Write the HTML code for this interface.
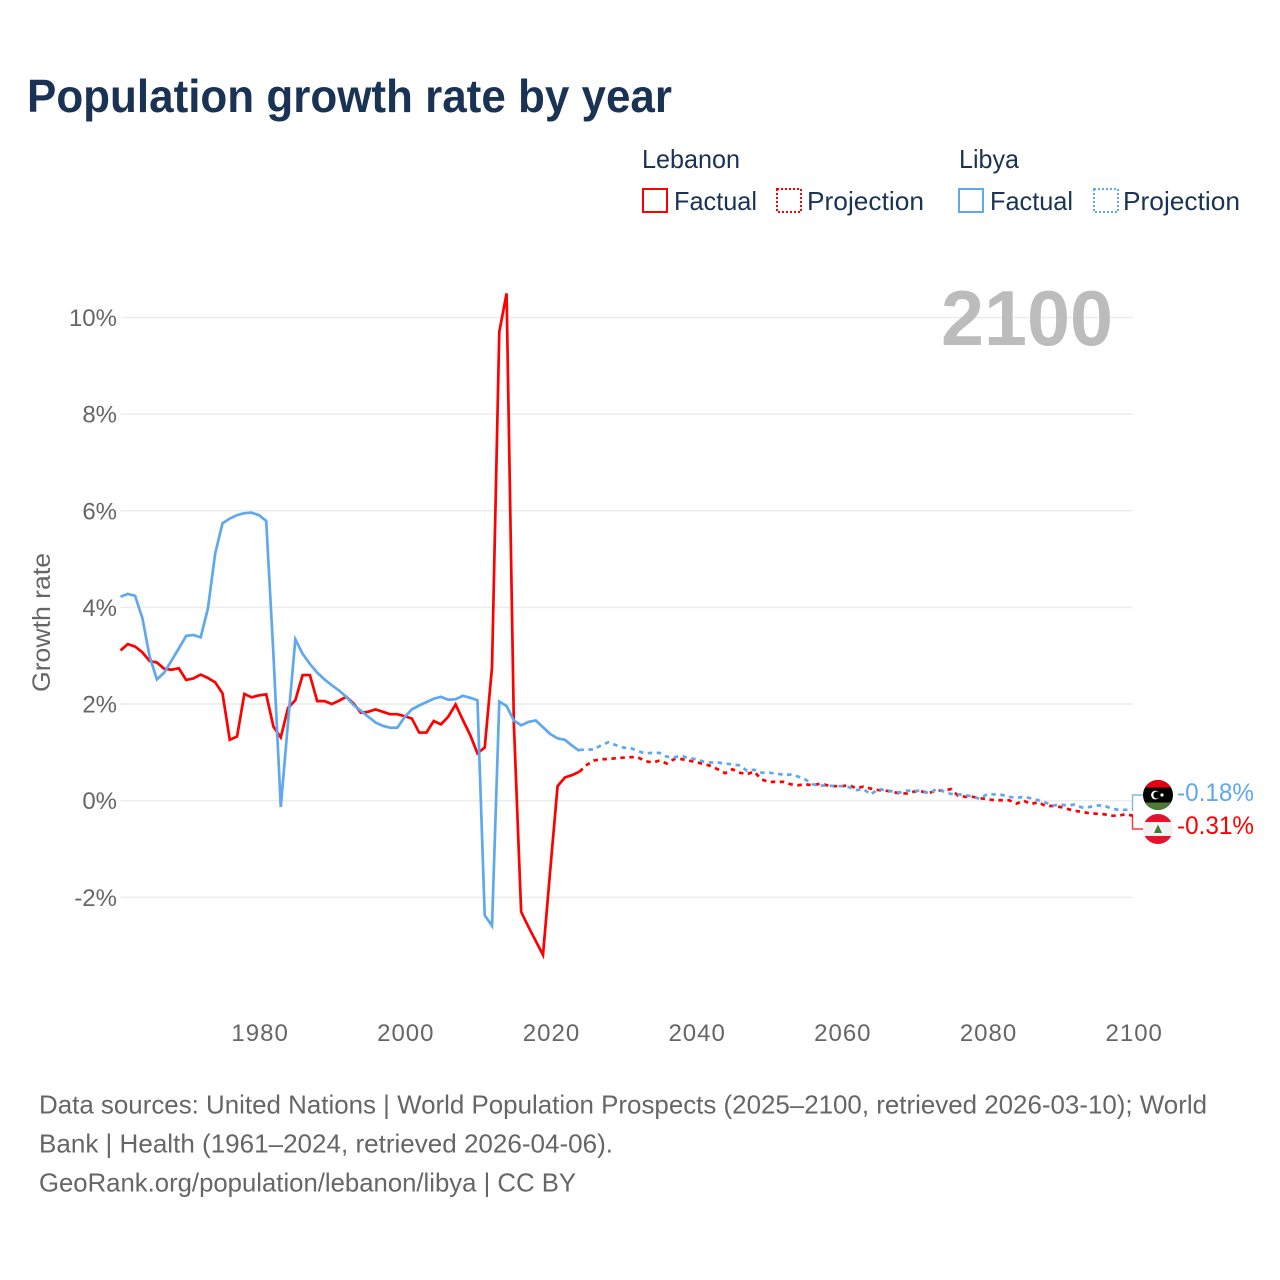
<!DOCTYPE html>
<html lang="en">
<head>
<meta charset="utf-8">
<title>Population growth rate by year</title>
<style>
  html, body { margin: 0; padding: 0; background: #fff; }
  svg { display: block; font-family: "Liberation Sans", sans-serif; }
</style>
</head>
<body>
<svg id="chart" xmlns="http://www.w3.org/2000/svg" width="1280" height="1280" viewBox="0 0 1280 1280">
  <rect x="0" y="0" width="1280" height="1280" fill="#ffffff"/>
  <text x="27" y="112" font-size="46" font-weight="700" fill="#1a3355" textLength="645" lengthAdjust="spacingAndGlyphs">Population growth rate by year</text>

  <g fill="#1a3355" font-size="26">
    <text x="642" y="168" textLength="98" lengthAdjust="spacingAndGlyphs">Lebanon</text>
    <text x="959" y="168" textLength="60" lengthAdjust="spacingAndGlyphs">Libya</text>
    <rect x="643" y="189" width="24" height="23" fill="none" stroke="#ff0000" stroke-width="2"/>
    <text x="674" y="210" textLength="83" lengthAdjust="spacingAndGlyphs">Factual</text>
    <rect x="777" y="189" width="24" height="23" fill="none" stroke="#ff0000" stroke-width="2" stroke-dasharray="2 2"/>
    <text x="807" y="210" textLength="117" lengthAdjust="spacingAndGlyphs">Projection</text>
    <rect x="959" y="189" width="24" height="23" fill="none" stroke="#5fa8ee" stroke-width="2"/>
    <text x="990" y="210" textLength="83" lengthAdjust="spacingAndGlyphs">Factual</text>
    <rect x="1094" y="189" width="24" height="23" fill="none" stroke="#5fa8ee" stroke-width="2" stroke-dasharray="2 2"/>
    <text x="1123" y="210" textLength="117" lengthAdjust="spacingAndGlyphs">Projection</text>
  </g>

  <text transform="translate(50 622.5) rotate(-90)" text-anchor="middle" font-size="25" fill="#666666" textLength="139" lengthAdjust="spacingAndGlyphs">Growth rate</text>

  <g id="grid"></g>
  <text x="941" y="345" font-size="78" font-weight="700" fill="#bcbcbc" textLength="172" lengthAdjust="spacingAndGlyphs">2100</text>
  <g id="y-ticks" font-size="24" fill="#666666" text-anchor="end"></g>
  <g id="x-ticks" font-size="24" fill="#666666" text-anchor="middle" letter-spacing="1"></g>
  <g id="series"></g>
  <g id="connectors"></g>

  <defs>
    <clipPath id="clip-libya"><circle cx="1158" cy="795" r="15"/></clipPath>
    <clipPath id="clip-lebanon"><circle cx="1158" cy="829" r="15"/></clipPath>
  </defs>
  <g clip-path="url(#clip-libya)">
    <rect x="1143" y="780" width="30" height="30" fill="#000000"/>
    <rect x="1143" y="780" width="30" height="7.5" fill="#e70013"/>
    <rect x="1143" y="802.5" width="30" height="7.5" fill="#4f7a35"/>
    <circle cx="1155.5" cy="795" r="4.4" fill="#ffffff"/>
    <circle cx="1156.8" cy="795" r="3.5" fill="#000000"/>
    <circle cx="1162" cy="795" r="1.6" fill="#ffffff"/>
  </g>
  <g clip-path="url(#clip-lebanon)">
    <rect x="1143" y="814" width="30" height="30" fill="#f1f1f1"/>
    <rect x="1143" y="814" width="30" height="8" fill="#e8112d"/>
    <rect x="1143" y="836" width="30" height="8" fill="#e8112d"/>
    <polygon points="1158,824.5 1162,833 1154,833" fill="#3d7a35"/>
  </g>

  <text id="label-libya" x="1177" y="801" font-size="25" fill="#5fa8ee" textLength="77" lengthAdjust="spacingAndGlyphs"></text>
  <text id="label-lebanon" x="1177" y="834" font-size="25" fill="#ff0000" textLength="77" lengthAdjust="spacingAndGlyphs"></text>

  <g font-size="26" fill="#666666">
    <text x="39" y="1113.5" textLength="1168" lengthAdjust="spacingAndGlyphs">Data sources: United Nations | World Population Prospects (2025–2100, retrieved 2026-03-10); World</text>
    <text x="39" y="1152.5" textLength="574" lengthAdjust="spacingAndGlyphs">Bank | Health (1961–2024, retrieved 2026-04-06).</text>
    <text x="39" y="1191.5" textLength="537" lengthAdjust="spacingAndGlyphs">GeoRank.org/population/lebanon/libya | CC BY</text>
  </g>
</svg>

<script>
const factualStartYear = 1961;
const projectionStartYear = 2024;
const xTickLabels = [1980, 2000, 2020, 2040, 2060, 2080, 2100];
const yTickValues = [-2, 0, 2, 4, 6, 8, 10];

const lebanonFactual = [
  3.11, 3.24, 3.19, 3.07, 2.89, 2.86, 2.73, 2.71, 2.74, 2.50,
  2.53, 2.61, 2.54, 2.45, 2.22, 1.26, 1.33, 2.21, 2.14, 2.18,
  2.20, 1.53, 1.31, 1.92, 2.08, 2.60, 2.60, 2.06, 2.06, 2.00,
  2.07, 2.15, 2.01, 1.82, 1.84, 1.89, 1.84, 1.79, 1.79, 1.75,
  1.70, 1.41, 1.41, 1.65, 1.58, 1.74, 1.99, 1.67, 1.36, 0.98,
  1.10, 2.76, 9.70, 10.50, 1.60, -2.30, -2.61, -2.90, -3.19, -1.43,
  0.30, 0.48, 0.53, 0.60
];
const libyaFactual = [
  4.22, 4.28, 4.24, 3.78, 2.98, 2.51, 2.65, 2.90, 3.15, 3.41,
  3.43, 3.38, 3.98, 5.12, 5.74, 5.84, 5.91, 5.95, 5.96, 5.91,
  5.79, 3.00, -0.13, 1.63, 3.34, 3.04, 2.83, 2.65, 2.51, 2.39,
  2.28, 2.15, 1.98, 1.86, 1.74, 1.62, 1.55, 1.51, 1.51, 1.73,
  1.89, 1.97, 2.04, 2.11, 2.15, 2.09, 2.10, 2.17, 2.13, 2.08,
  -2.37, -2.59, 2.05, 1.96, 1.66, 1.56, 1.63, 1.66, 1.52, 1.38,
  1.29, 1.26, 1.14, 1.03
];
const lebanonProjection = [
  0.60, 0.74, 0.83, 0.86, 0.86, 0.88, 0.89, 0.90, 0.90, 0.82,
  0.79, 0.83, 0.77, 0.86, 0.86, 0.83, 0.80, 0.76, 0.72, 0.65,
  0.57, 0.65, 0.58, 0.55, 0.60, 0.44, 0.39, 0.39, 0.39, 0.34,
  0.32, 0.34, 0.32, 0.35, 0.32, 0.30, 0.30, 0.32, 0.26, 0.29,
  0.25, 0.22, 0.21, 0.18, 0.15, 0.15, 0.19, 0.19, 0.16, 0.21,
  0.21, 0.24, 0.10, 0.08, 0.08, 0.05, 0.03, 0.01, 0.01, 0.01,
  -0.06, 0.00, -0.07, -0.03, -0.11, -0.11, -0.13, -0.17, -0.21, -0.23,
  -0.26, -0.27, -0.28, -0.31, -0.31, -0.28, -0.31
];
const libyaProjection = [
  1.05, 1.06, 1.06, 1.15, 1.21, 1.15, 1.10, 1.09, 1.03, 0.98,
  0.99, 0.99, 0.91, 0.90, 0.93, 0.88, 0.86, 0.81, 0.79, 0.79,
  0.77, 0.75, 0.73, 0.62, 0.64, 0.58, 0.58, 0.56, 0.54, 0.54,
  0.50, 0.44, 0.34, 0.31, 0.32, 0.30, 0.30, 0.28, 0.22, 0.24,
  0.13, 0.24, 0.22, 0.19, 0.17, 0.21, 0.20, 0.21, 0.15, 0.24,
  0.19, 0.14, 0.13, 0.12, 0.08, 0.04, 0.14, 0.13, 0.12, 0.08,
  0.06, 0.08, 0.05, 0.01, -0.04, -0.10, -0.08, -0.10, -0.08, -0.14,
  -0.13, -0.10, -0.10, -0.16, -0.19, -0.19, -0.18
];

const SVG_NS = 'http://www.w3.org/2000/svg';
const RED = '#ff0000';
const BLUE = '#5fa8ee';

function xScale(year) {
  return 1133 - (2100 - year) * 7.284;
}
function yScale(value) {
  return 800.7 - value * 48.32;
}
function formatEnd(value) {
  return value.toFixed(2) + '%';
}
function pathFrom(values, startYear) {
  return values.map(function (v, i) {
    return (i ? 'L' : 'M') + xScale(startYear + i).toFixed(2) + ' ' + yScale(v).toFixed(2);
  }).join(' ');
}

const gridGroup = document.getElementById('grid');
const yTickGroup = document.getElementById('y-ticks');
yTickValues.forEach(function (v) {
  const line = document.createElementNS(SVG_NS, 'line');
  
  
  line.setAttribute('x1', xScale(1961));
  line.setAttribute('x2', xScale(2100));
  line.setAttribute('y1', yScale(v));
  line.setAttribute('y2', yScale(v));
  line.setAttribute('stroke', '#ececec');
  line.setAttribute('stroke-width', '1.5');
  gridGroup.appendChild(line);

  const label = document.createElementNS(SVG_NS, 'text');
  
  
  label.setAttribute('x', 117);
  label.setAttribute('y', yScale(v) + 8.5);
  label.textContent = v + '%';
  yTickGroup.appendChild(label);
});

const xTickGroup = document.getElementById('x-ticks');
xTickLabels.forEach(function (year) {
  const label = document.createElementNS(SVG_NS, 'text');
  
  
  label.setAttribute('x', xScale(year) + 1.2);
  label.setAttribute('y', 1041);
  label.textContent = year;
  xTickGroup.appendChild(label);
});

const seriesGroup = document.getElementById('series');
function addSeries(name, values, startYear, color, dashed) {
  const path = document.createElementNS(SVG_NS, 'path');
  
  
  path.setAttribute('d', pathFrom(values, startYear));
  path.setAttribute('fill', 'none');
  path.setAttribute('stroke', color);
  path.setAttribute('stroke-width', '2.7');
  path.setAttribute('stroke-linejoin', 'miter');
  if (dashed) {
    path.setAttribute('stroke-dasharray', '4.5 4.5');
  }
  seriesGroup.appendChild(path);
}
addSeries('lebanon-factual-line', lebanonFactual, factualStartYear, RED, false);
addSeries('libya-factual-line', libyaFactual, factualStartYear, BLUE, false);
addSeries('lebanon-projection-line', lebanonProjection, projectionStartYear, RED, true);
addSeries('libya-projection-line', libyaProjection, projectionStartYear, BLUE, true);

const connectorGroup = document.getElementById('connectors');
function addConnector(name, value, flagY, color) {
  const x = xScale(2100) - 0.5;
  const path = document.createElementNS(SVG_NS, 'path');
  
  
  path.setAttribute('d', 'M' + x + ' ' + yScale(value) + ' L' + x + ' ' + flagY + ' L1144 ' + flagY);
  path.setAttribute('fill', 'none');
  path.setAttribute('stroke', color);
  path.setAttribute('stroke-width', '1.4');
  path.setAttribute('stroke-opacity', '0.8');
  connectorGroup.appendChild(path);
}
const libyaEnd = libyaProjection[libyaProjection.length - 1];
const lebanonEnd = lebanonProjection[lebanonProjection.length - 1];
addConnector('libya-connector', libyaEnd, 795, BLUE);
addConnector('lebanon-connector', lebanonEnd, 829, RED);

document.getElementById('label-libya').textContent = formatEnd(libyaEnd);
document.getElementById('label-lebanon').textContent = formatEnd(lebanonEnd);
</script>
</body>
</html>
